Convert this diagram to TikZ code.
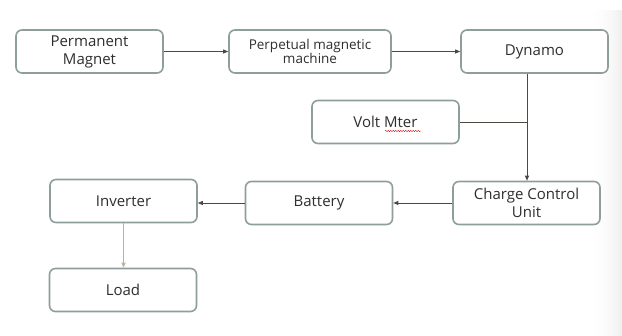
\documentclass[tikz,border=0pt]{standalone}
\usepackage{fontspec}
\setmainfont{Open Sans}
\usetikzlibrary{arrows.meta,decorations.pathmorphing}
\definecolor{bordc}{HTML}{8E9E9C}
\definecolor{txtc}{HTML}{2E2E2E}
\definecolor{linec}{HTML}{4A4A45}
\definecolor{tanc}{HTML}{B8B49E}
\tikzset{
  blockbox/.style={draw=bordc, line width=1.6pt, rounded corners=6pt, fill=white,
    minimum width=147pt, minimum height=43pt, inner sep=2pt, align=center,
    text=txtc, font=\fontsize{15}{18}\selectfont},
  conn/.style={draw=linec, line width=0.8pt},
  arr/.style={conn, -{Triangle[length=5pt,width=4pt]}},
}
\begin{document}
\begin{tikzpicture}[x=1pt,y=-1pt]
\useasboundingbox (0,0) rectangle (622,336);
\fill[white] (0,0) rectangle (622,336);
\foreach \i in {0,...,33} {
  \pgfmathsetmacro{\g}{\i*\i*6/1089}
  \fill[black!\g] (588+\i,10) rectangle (589.05+\i,336);
}
\node[blockbox] (pm) at (89.5,51.5) {Permanent\\Magnet};
\node[blockbox, minimum width=162pt, font=\fontsize{13.5}{14}\selectfont] (pmm) at (310,51.5) {Perpetual magnetic\\machine};
\node[blockbox] (dyn) at (534.5,51.5) {Dynamo};
\node[blockbox] (vm) at (385.5,122) {Volt Mter};
\node[blockbox] (ccu) at (526.5,203) {Charge Control\\Unit};
\node[blockbox] (bat) at (319,203) {Battery};
\node[blockbox] (inv) at (123.5,201) {Inverter};
\node[blockbox] (load) at (123,290) {Load};
\draw[arr] (pm.east) -- (pm.east -| pmm.west);
\draw[arr] (pmm.east) -- (pmm.east -| dyn.west);
\draw[arr] (527,0 |- dyn.south) -- (527,0 |- ccu.north);
\draw[conn] (vm.east) -- (vm.east -| 527,0);
\draw[arr] (ccu.west) -- (ccu.west -| bat.east);
\draw[arr] (bat.west |- 0,203) -- (inv.east |- 0,203);
\draw[draw=tanc, line width=0.9pt, -{Triangle[length=5pt,width=4pt]}] (inv.south) -- (inv.south |- load.north);
\draw[red!80!black, line width=0.4pt, decorate, decoration={snake, amplitude=0.6pt, segment length=2.5pt}] (385,131) -- (421,131);
\end{tikzpicture}
\end{document}
